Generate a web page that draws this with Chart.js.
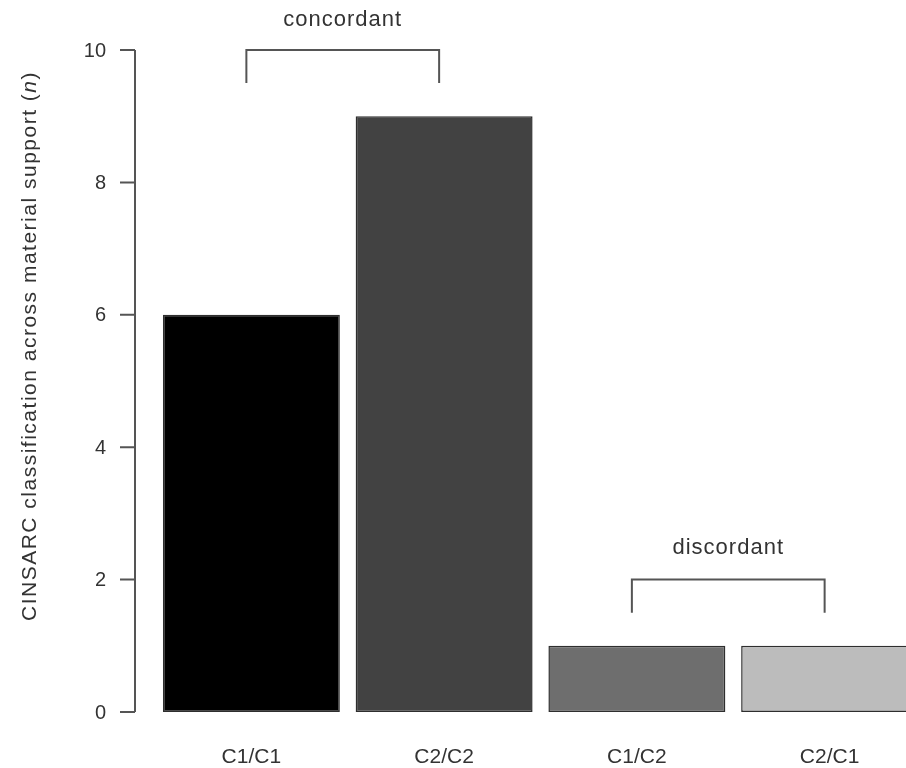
<!DOCTYPE html>
<html>
<head>
<meta charset="utf-8">
<script src="https://cdn.jsdelivr.net/npm/chart.js@4"></script>
<style>
  body { margin: 0; background: #fff; overflow: hidden; }
  canvas { display: block; }
</style>
</head>
<body>
<canvas id="chart" width="926" height="768"></canvas>
<script>
// Data
const categories = ['C1/C1', 'C2/C2', 'C1/C2', 'C2/C1'];
const counts = [6, 9, 1, 1];
const barColors = ['#000000', '#424242', '#6e6e6e', '#bcbcbc'];
const yTicks = [0, 2, 4, 6, 8, 10];

// bracket annotations (category index + value coordinates)
const bracketLabels = ['concordant', 'discordant'];
const bracketFrom = [0, 2];
const bracketTo = [1, 3];
const bracketTop = [10, 2];
const bracketBottom = [9.5, 1.5];
const bracketTextAt = [10.45, 2.48];

const textColor = '#333';
const lineColor = '#555';

// R-style detached y axis + brackets
const annotations = {
    id: 'annotations',
    afterDraw(chart) {
        const ctx = chart.ctx;
        const x = chart.scales.x;
        const y = chart.scales.y;
        const area = chart.chartArea;
        const axisX = area.left - 20;

        ctx.save();
        ctx.strokeStyle = lineColor;
        ctx.lineWidth = 2;
        ctx.fillStyle = textColor;

        // axis line + ticks
        ctx.beginPath();
        ctx.moveTo(axisX, y.getPixelForValue(yTicks[0]));
        ctx.lineTo(axisX, y.getPixelForValue(yTicks[yTicks.length - 1]));
        yTicks.forEach(t => {
            const py = y.getPixelForValue(t);
            ctx.moveTo(axisX - 15, py);
            ctx.lineTo(axisX, py);
        });
        ctx.stroke();

        ctx.font = '20px "Liberation Sans", Arial, sans-serif';
        ctx.textAlign = 'right';
        ctx.textBaseline = 'middle';
        yTicks.forEach(t => {
            ctx.fillText(String(t), axisX - 29, y.getPixelForValue(t) + 1);
        });

        // y axis title with italic n
        ctx.save();
        ctx.translate(30, (area.top + area.bottom) / 2 - 35);
        ctx.rotate(-Math.PI / 2);
        ctx.letterSpacing = '1.5px';
        const normal = '21px "Liberation Sans", Arial, sans-serif';
        const italic = 'italic 21px "Liberation Sans", Arial, sans-serif';
        const parts = [
            ['CINSARC classification across material support (', normal],
            ['n', italic],
            [')', normal]
        ];
        let total = 0;
        parts.forEach(p => { ctx.font = p[1]; total += ctx.measureText(p[0]).width; });
        let cx = -total / 2;
        ctx.textAlign = 'left';
        parts.forEach(p => {
            ctx.font = p[1];
            ctx.fillText(p[0], cx, 0);
            cx += ctx.measureText(p[0]).width;
        });
        ctx.restore();

        // brackets
        ctx.font = '22px "Liberation Sans", Arial, sans-serif';
        ctx.letterSpacing = '1px';
        ctx.textAlign = 'center';
        bracketLabels.forEach((label, i) => {
            const x1 = x.getPixelForValue(bracketFrom[i]) - 5;
            const x2 = x.getPixelForValue(bracketTo[i]) - 5;
            const yTop = y.getPixelForValue(bracketTop[i]);
            const yBot = y.getPixelForValue(bracketBottom[i]);
            ctx.beginPath();
            ctx.moveTo(x1, yBot);
            ctx.lineTo(x1, yTop);
            ctx.lineTo(x2, yTop);
            ctx.lineTo(x2, yBot);
            ctx.stroke();
            ctx.fillText(label, (x1 + x2) / 2, y.getPixelForValue(bracketTextAt[i]));
        });
        ctx.restore();
    }
};

new Chart(document.getElementById('chart'), {
    type: 'bar',
    data: {
        labels: categories,
        datasets: [{
            data: counts,
            backgroundColor: barColors,
            borderColor: '#2e2e2e',
            borderWidth: 1.5,
            borderSkipped: false,
            barPercentage: 0.918,
            categoryPercentage: 1
        }]
    },
    options: {
        responsive: false,
        animation: false,
        devicePixelRatio: 1,
        layout: { padding: { left: 155, top: 50, right: 0, bottom: 0 } },
        plugins: {
            legend: { display: false },
            tooltip: { enabled: false }
        },
        scales: {
            x: {
                offset: true,
                grid: { display: false, drawTicks: false },
                border: { display: false },
                ticks: {
                    color: textColor,
                    padding: 33,
                    font: { family: '"Liberation Sans", Arial, sans-serif', size: 21 }
                },
                afterFit: scale => { scale.height = 56; }
            },
            y: {
                display: false,
                min: 0,
                max: 10
            }
        }
    },
    plugins: [annotations]
});
</script>
</body>
</html>
